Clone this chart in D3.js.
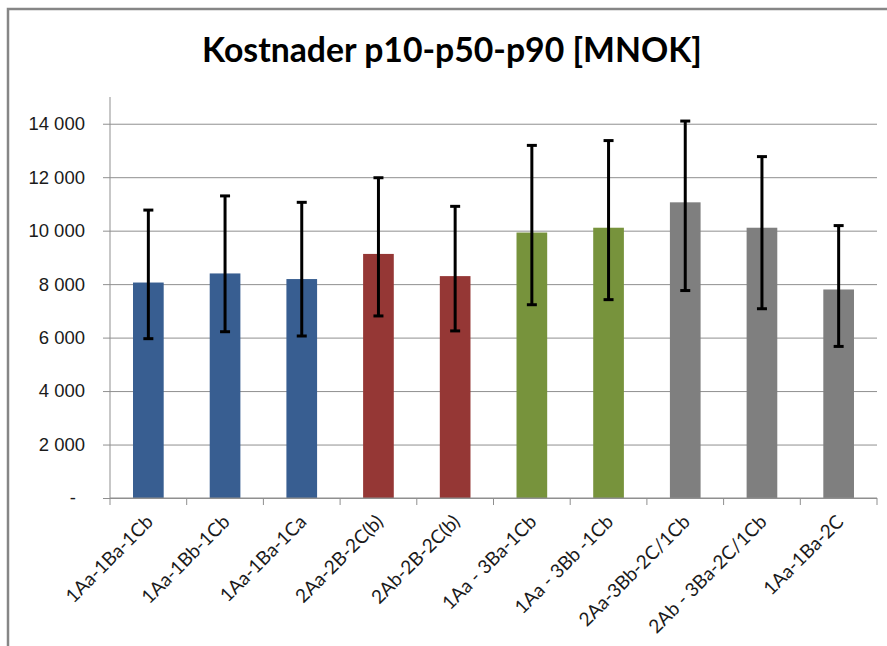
<!DOCTYPE html>
<html>
<head>
<meta charset="utf-8">
<script src="https://cdn.jsdelivr.net/npm/d3@7"></script>
<style>
  body { margin: 0; background: #fff; }
  svg { display: block; font-family: Lato, "Open Sans", sans-serif; }
</style>
</head>
<body>
<div id="chart"></div>
<script>
// values (MNOK)
var categories = ['1Aa-1Ba-1Cb', '1Aa-1Bb-1Cb', '1Aa-1Ba-1Ca', '2Aa-2B-2C(b)', '2Ab-2B-2C(b)',
                  '1Aa - 3Ba-1Cb', '1Aa - 3Bb -1Cb', '2Aa-3Bb-2C/1Cb', '2Ab - 3Ba-2C/1Cb', '1Aa-1Ba-2C'];
var p50 = [8060, 8400, 8190, 9130, 8300, 9930, 10110, 11060, 10110, 7800];
var p10 = [5960, 6220, 6060, 6810, 6250, 7230, 7420, 7760, 7080, 5670];
var p90 = [10770, 11300, 11060, 11980, 10910, 13190, 13370, 14100, 12770, 10190];
var groups = ['1', '1', '1', '2', '2', '3', '3', '4', '4', '4'];
var yTicks = [0, 2000, 4000, 6000, 8000, 10000, 12000, 14000];

var width = 887, height = 646;
var margin = {top: 97, right: 10, bottom: 148, left: 110};

var svg = d3.select('#chart').append('svg')
    .attr('width', width)
    .attr('height', height);

// chart frame
svg.append('rect')
    .attr('x', 8).attr('y', 9)
    .attr('width', width + 20).attr('height', height + 20)
    .attr('fill', '#fff')
    .attr('stroke', '#868686')
    .attr('stroke-width', 2.5);

var title = svg.append('text')
    .attr('x', 452)
    .attr('y', 62)
    .attr('text-anchor', 'middle')
    .attr('font-weight', 'bold')
    .attr('font-size', 36)
    .attr('fill', '#000')
    .text('Kostnader p10-p50-p90 [MNOK]');
// squeeze to the width of the original title
var tl = title.node().getComputedTextLength();
title.attr('font-size', 36 * 500 / tl);

var x = d3.scaleBand()
    .domain(categories)
    .range([margin.left, width - margin.right])
    .paddingInner(0.6)
    .paddingOuter(0.3);

var band = d3.scaleBand()
    .domain(categories)
    .range([margin.left, width - margin.right]);

var y = d3.scaleLinear()
    .domain([0, 15000])
    .range([height - margin.bottom, margin.top]);

var color = d3.scaleOrdinal()
    .domain(['1', '2', '3', '4'])
    .range(['#385E91', '#953735', '#77933C', '#7F7F7F']);

var fmt = function(d) {
  return d === 0 ? '-' : d3.format(',')(d).replace(/,/g, ' ');
};

// gridlines + y axis
var yAxis = svg.append('g')
    .attr('transform', 'translate(' + margin.left + ',0)')
    .call(d3.axisLeft(y)
        .tickValues(yTicks)
        .tickFormat(fmt)
        .tickSize(-(width - margin.right - margin.left))
        .tickSizeOuter(0)
        .tickPadding(25));

yAxis.select('.domain').remove();
yAxis.selectAll('.tick line')
    .attr('stroke', '#8f8f8f')
    .attr('x1', -7);
yAxis.selectAll('.tick text')
    .attr('font-size', 18.5)
    .attr('fill', '#1a1a1a')
    .attr('dx', function(d) { return d === 0 ? -9 : 0; });

svg.append('line')
    .attr('x1', margin.left).attr('x2', margin.left)
    .attr('y1', margin.top).attr('y2', y(0))
    .attr('stroke', '#8f8f8f');

// bars
svg.append('g').selectAll('rect')
    .data(categories)
    .enter()
    .append('rect')
    .attr('x', function(d) { return x(d); })
    .attr('width', x.bandwidth())
    .attr('y', function(d, i) { return y(p50[i]); })
    .attr('height', function(d, i) { return y(0) - y(p50[i]); })
    .attr('fill', function(d, i) { return color(groups[i]); });

// x axis
var xAxis = svg.append('g')
    .attr('transform', 'translate(0,' + y(0) + ')');

xAxis.append('line')
    .attr('x1', margin.left).attr('x2', width - margin.right)
    .attr('stroke', '#8f8f8f');

xAxis.selectAll('.tk')
    .data(categories.concat(['end']))
    .enter()
    .append('line')
    .attr('x1', function(d, i) { return margin.left + i * band.bandwidth(); })
    .attr('x2', function(d, i) { return margin.left + i * band.bandwidth(); })
    .attr('y1', 0).attr('y2', 7)
    .attr('stroke', '#8f8f8f');

xAxis.selectAll('text')
    .data(categories)
    .enter()
    .append('text')
    .attr('transform', function(d) {
      return 'translate(' + (band(d) + band.bandwidth() / 2 + 6) + ',25) rotate(-45)';
    })
    .attr('text-anchor', 'end')
    .attr('font-size', 19)
    .attr('fill', '#1a1a1a')
    .text(function(d) { return d; });

// error bars p10 - p90
var err = svg.append('g')
    .attr('stroke', '#000')
    .attr('stroke-width', 3);

categories.forEach(function(c, i) {
  var cx = x(c) + x.bandwidth() / 2;
  err.append('line')
      .attr('x1', cx).attr('x2', cx)
      .attr('y1', y(p10[i])).attr('y2', y(p90[i]));
  err.append('line')
      .attr('x1', cx - 5).attr('x2', cx + 5)
      .attr('y1', y(p10[i])).attr('y2', y(p10[i]));
  err.append('line')
      .attr('x1', cx - 5).attr('x2', cx + 5)
      .attr('y1', y(p90[i])).attr('y2', y(p90[i]));
});
</script>
</body>
</html>
